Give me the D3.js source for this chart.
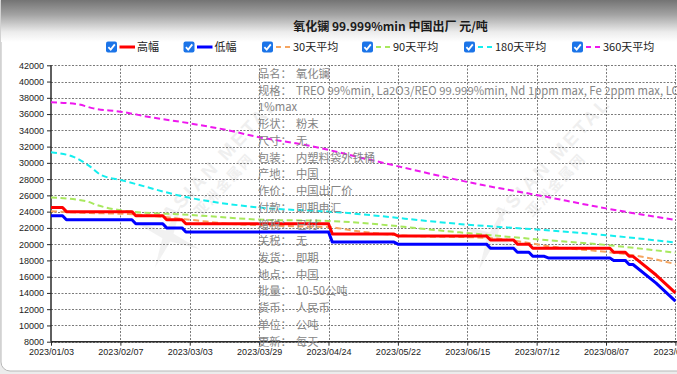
<!DOCTYPE html>
<html><head><meta charset="utf-8">
<script src="https://cdn.jsdelivr.net/npm/d3@7"></script>
<style>html,body{margin:0;padding:0;background:#fff;overflow:hidden}</style>
</head><body>
<svg id="c" width="677" height="374" xmlns="http://www.w3.org/2000/svg"></svg>
<script>
// ---------- data ----------
const chartTitle = "氧化镧 99.999%min 中国出厂 元/吨";
const seriesNames = ["高幅", "低幅", "30天平均", "90天平均", "180天平均", "360天平均"];
const xTickIdx = [0, 18, 36, 54, 72, 90, 108, 126, 144, 162];
const xTickLabels = ["2023/01/03", "2023/02/07", "2023/03/03", "2023/03/29", "2023/04/24",
  "2023/05/22", "2023/06/15", "2023/07/12", "2023/08/07", "2023/08/31"];
const yTicks = [8000, 10000, 12000, 14000, 16000, 18000, 20000, 22000, 24000, 26000,
  28000, 30000, 32000, 34000, 36000, 38000, 40000, 42000];
// flat runs: [firstDayIndex, lastDayIndex, price]
const highRuns = [[0,3,24500],[4,21,24000],[22,29,23500],[30,34,23000],[35,72,22500],
  [73,89,21250],[90,113,21000],[114,120,20500],[121,124,20000],[125,145,19500],
  [146,149,19000],[150,151,18500],[157,157,16200],[162,162,14000]];
const lowRuns = [[0,3,23500],[4,21,23000],[22,29,22500],[30,34,22000],[35,72,21500],
  [73,89,20250],[90,113,20000],[114,120,19500],[121,124,19000],[125,128,18500],
  [129,145,18300],[146,149,18000],[150,151,17500],[157,157,15200],[162,162,13000]];
// moving averages: [dayIndex, value]
const avg30 = [[0,24050],[8,23850],[20,23700],[28,23400],[38,22900],[45,22550],[57,22300],
  [66,22150],[72,22100],[78,21700],[84,21350],[90,21100],[96,20950],[109,20850],[114,20750],
  [124,20150],[129,19750],[144,19050],[150,18700],[155,18300],[162,17550]];
const avg90 = [[0,25750],[9,25300],[12,24800],[20,24050],[36,23600],[55,23000],[72,22850],
  [106,21450],[126,20600],[144,19900],[162,18950]];
const avg180 = [[0,31300],[6,30700],[10,29600],[13,28500],[18,27900],[36,25700],[52,24600],
  [75,23900],[108,22400],[126,21800],[144,21100],[162,20200]];
const avg360 = [[0,37450],[7,37200],[11,36700],[18,36300],[26,35600],[36,34860],[46,34000],
  [54,33150],[66,32200],[83,30350],[112,27270],[126,26050],[144,24400],[162,22970]];
const infoLabels = ["品名：","规格：","","形状：","尺寸：","包装：","产地：","作价：","付款：",
  "增税：","关税：","发货：","地点：","批量：","货币：","单位：","更新："];
const infoValues = ["氧化镧","TREO 99%min, La2O3/REO 99.999%min, Nd 1ppm max, Fe 2ppm max, LOI","1%max",
  "粉末","无","内塑料袋外铁桶","中国","中国出厂价","即期电汇","已付","无","即期","中国",
  "10-50公吨","人民币","公吨","每天"];

// ---------- drawing ----------
const colors = ["#ff0000", "#0000ff", "#f5a560", "#a8e85e", "#14eeee", "#ee18ee"];
const svg = d3.select("#c");
const W = 677, H = 374;
const x = d3.scaleLinear().domain([0, 162]).range([51, 675.4]);
const y = d3.scaleLinear().domain([8000, 42000]).range([341.7, 65.3]);

const defs = svg.append("defs");
const grad = defs.append("linearGradient").attr("id","hdr").attr("x1",0).attr("y1",0).attr("x2",0).attr("y2",1);
grad.append("stop").attr("offset","0").attr("stop-color","#5a5a5a");
grad.append("stop").attr("offset","0.45").attr("stop-color","#a2a2a2");
grad.append("stop").attr("offset","0.8").attr("stop-color","#ececec");
grad.append("stop").attr("offset","1").attr("stop-color","#ffffff");
defs.append("clipPath").attr("id","frame").append("rect")
  .attr("x",1).attr("y",-8).attr("width",720).attr("height",379).attr("rx",9);

svg.append("rect").attr("width",W).attr("height",H).attr("fill","#ececec");
svg.append("rect").attr("x",1).attr("y",-8).attr("width",720).attr("height",379).attr("rx",9)
  .attr("fill","#fff").attr("stroke","#b8b8b8").attr("stroke-width",1);
svg.append("rect").attr("clip-path","url(#frame)").attr("x",0).attr("y",-8).attr("width",W).attr("height",50)
  .attr("fill","url(#hdr)");

// watermarks
function watermark(cx, cy, tx, ty) {
  const g = svg.append("g").attr("opacity", 0.13);
  const r = 34, ri = 6;
  const pts = [];
  for (let i = 0; i < 8; i++) {
    const a = -Math.PI / 2 + i * Math.PI / 4 + Math.PI / 8;
    const rr = i % 2 === 0 ? r : ri;
    pts.push([cx + rr * Math.cos(a), cy + rr * Math.sin(a)]);
  }
  g.append("path").attr("d", "M" + pts.map(p => p.join(",")).join("L") + "Z").attr("fill", "#9a9a9a");
  const t = g.append("g").attr("transform", `translate(${tx},${ty}) rotate(-47)`);
  t.append("text").attr("font-family", "Liberation Sans, Arial, sans-serif").attr("font-weight", "bold")
    .attr("font-size", 19).attr("letter-spacing", 3).attr("fill", "#8a8a8a").text("ASIAN METAL");
  t.append("text").attr("y", 19).attr("x", 24).attr("font-family", "Noto Sans CJK SC").attr("font-weight", "bold")
    .attr("font-size", 14).attr("letter-spacing", 2).attr("fill", "#8a8a8a").text("亚洲金属网");
}
watermark(168, 236, 170, 222);
watermark(492, 238, 502, 222);

// grid
const grid = svg.append("g");
grid.selectAll("line.h").data(yTicks).join("line")
  .attr("x1", 51).attr("x2", W).attr("y1", d => Math.round(y(d)) + 0.5).attr("y2", d => Math.round(y(d)) + 0.5)
  .attr("stroke", "#7a7a7a").attr("stroke-width", 1).attr("stroke-dasharray", "2,1.5");
grid.selectAll("line.v").data(xTickIdx.slice(1)).join("line")
  .attr("x1", d => Math.round(x(d)) + 0.5).attr("x2", d => Math.round(x(d)) + 0.5)
  .attr("y1", 65).attr("y2", 341.7)
  .attr("stroke", "#7a7a7a").attr("stroke-width", 1).attr("stroke-dasharray", "2,1.5");

// axes
const yAxis = d3.axisLeft(y).tickValues(yTicks).tickSize(4).tickPadding(3).tickFormat(d => String(d));
const gy = svg.append("g").attr("transform", "translate(51,0)").call(yAxis);
const xAxis = d3.axisBottom(x).tickValues(xTickIdx).tickSize(4).tickPadding(3).tickFormat((d, i) => xTickLabels[i]);
const gx = svg.append("g").attr("transform", "translate(0,341.7)").call(xAxis);
[gx, gy].forEach(g => {
  g.select(".domain").attr("stroke", "#2a2a2a").attr("stroke-width", 1.5);
  g.selectAll(".tick line").attr("stroke", "#2a2a2a");
  g.selectAll(".tick text").attr("font-family", "Liberation Sans, Arial, sans-serif")
    .attr("font-size", 9).attr("fill", "#222");
});
gy.select(".domain").attr("d", "M0,341.7V65.3");
gx.select(".domain").attr("d", "M51,0H" + W);

// series
function runsToPoints(runs) {
  const p = [];
  runs.forEach(([s, e, v]) => { p.push([s, v]); if (e > s) p.push([e, v]); });
  return p;
}
const lineLin = d3.line().x(d => x(d[0])).y(d => y(d[1]));
const lineSmooth = d3.line().x(d => x(d[0])).y(d => y(d[1])).curve(d3.curveMonotoneX);
const dashed = [avg30, avg90, avg180, avg360];
dashed.forEach((s, i) => {
  svg.append("path").attr("d", lineSmooth(s)).attr("fill", "none").attr("stroke", colors[i + 2])
    .attr("stroke-width", 2).attr("stroke-dasharray", "6,3.5");
});
[highRuns, lowRuns].forEach((r, i) => {
  svg.append("path").attr("d", lineLin(runsToPoints(r))).attr("fill", "none").attr("stroke", colors[i])
    .attr("stroke-width", 3).attr("stroke-linejoin", "round");
});

// info overlay
const info = svg.append("g").attr("font-family", "Noto Sans CJK SC, sans-serif").attr("font-size", 11.3).attr("fill", "#858585");
infoLabels.forEach((lab, i) => {
  const cy = 74 + 16.73 * i;
  if (lab) {
    info.append("text").attr("x", 258).attr("y", cy + 4).text(lab);
    info.append("text").attr("x", 296).attr("y", cy + 4).text(infoValues[i]);
  } else {
    info.append("text").attr("x", 258).attr("y", cy + 4).text(infoValues[i]);
  }
});

// title
svg.append("text").attr("x", 390.5).attr("y", 31).attr("text-anchor", "middle")
  .attr("font-family", "Noto Sans CJK SC, sans-serif").attr("font-weight", "bold").attr("font-size", 12)
  .attr("fill", "#1a1a1a").text(chartTitle);

// legend
const cbX = [106, 183.5, 262, 362, 464, 572];
const lg = svg.append("g");
seriesNames.forEach((name, i) => {
  const g = lg.append("g").attr("transform", `translate(${cbX[i]},0)`);
  g.append("rect").attr("x", 0).attr("y", 41.5).attr("width", 11).attr("height", 11).attr("rx", 2).attr("fill", "#1b74e8");
  g.append("path").attr("d", "M2.4,47.2 L4.7,49.6 L8.8,44.4").attr("fill", "none").attr("stroke", "#fff").attr("stroke-width", 1.8);
  const ln = g.append("line").attr("x1", 13.5).attr("x2", 29).attr("y1", 47).attr("y2", 47).attr("stroke", colors[i]);
  if (i < 2) ln.attr("stroke-width", 3);
  else ln.attr("stroke-width", 2).attr("stroke-dasharray", "5,4").attr("x1", 14);
  g.append("text").attr("x", 31).attr("y", 51.2).attr("font-family", "Noto Sans CJK SC, sans-serif")
    .attr("font-size", 11).attr("fill", "#222").text(name);
});
</script>
</body></html>
